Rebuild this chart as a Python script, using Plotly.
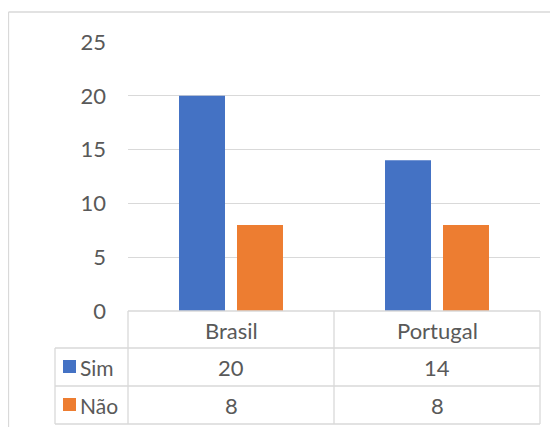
import plotly.graph_objects as go

categories = ["Brasil", "Portugal"]
series_names = ["Sim", "Não"]
sim_values = [20, 14]
nao_values = [8, 8]
colors = ["#4472C4", "#ED7D31"]
y_ticks = [0, 5, 10, 15, 20, 25]

# page body adds an 8px margin, so the figure is drawn 8px in from the corner
OFF = 8
W, H = 558 - OFF, 427 - OFF
L, R, T, B = 128 - OFF, 18, 42 - OFF, 116
PW, PH = W - L - R, H - T - B
GRID = "#d9d9d9"
TEXT = "#595959"
FONT = "Lato"
FS = 22


def px(x):
    # x in reference-image pixels -> paper coords
    return (x - OFF - L) / PW


def py(y):
    return (H - B - (y - OFF)) / PH


fig = go.Figure()
for name, vals, col in zip(series_names, [sim_values, nao_values], colors):
    fig.add_bar(x=categories, y=vals, name=name, marker=dict(color=col, line=dict(width=0)))

shapes = []
line = dict(color=GRID, width=1.3)
# outer chart border (left + top)
shapes.append(dict(type="line", xref="paper", yref="paper", x0=px(8.5), x1=px(8.5), y0=py(12), y1=py(440), line=line))
shapes.append(dict(type="line", xref="paper", yref="paper", x0=px(8.5), x1=px(570), y0=py(12), y1=py(12), line=line))
# data table grid
row_lines = [311, 348, 386, 424]
for i, yy in enumerate(row_lines):
    x0 = 128 if i == 0 else 55
    shapes.append(dict(type="line", xref="paper", yref="paper", x0=px(x0), x1=px(540), y0=py(yy), y1=py(yy), line=line))
for xx in [128, 334, 540]:
    shapes.append(dict(type="line", xref="paper", yref="paper", x0=px(xx), x1=px(xx), y0=py(311), y1=py(424), line=line))
shapes.append(dict(type="line", xref="paper", yref="paper", x0=px(55), x1=px(55), y0=py(348), y1=py(424), line=line))

annotations = []
row_centers = [367, 405]
# header row with categories
for c in categories:
    annotations.append(dict(x=c, xref="x", y=py(330), yref="paper", text=c, showarrow=False,
                            font=dict(family=FONT, size=FS, color=TEXT), xanchor="center", yanchor="middle"))
# value rows and legend keys
for name, vals, col, yc in zip(series_names, [sim_values, nao_values], colors, row_centers):
    for c, v in zip(categories, vals):
        annotations.append(dict(x=c, xref="x", y=py(yc), yref="paper", text=str(v), showarrow=False,
                                font=dict(family=FONT, size=FS, color=TEXT), xanchor="center", yanchor="middle"))
    shapes.append(dict(type="rect", xref="paper", yref="paper", x0=px(63), x1=px(76), y0=py(yc - 7), y1=py(yc + 6),
                       fillcolor=col, line=dict(width=0)))
    annotations.append(dict(x=px(78), xref="paper", y=py(yc), yref="paper", text=name, showarrow=False,
                            font=dict(family=FONT, size=21, color=TEXT), xanchor="left", yanchor="middle"))

fig.update_layout(
    width=W, height=H,
    margin=dict(l=L, r=R, t=T, b=B, pad=0),
    paper_bgcolor="white", plot_bgcolor="white",
    barmode="group", bargap=0.437, bargroupgap=0.207,
    showlegend=False,
    font=dict(family=FONT, size=FS, color=TEXT),
    shapes=shapes, annotations=annotations,
    xaxis=dict(showticklabels=False, showgrid=False, zeroline=False, showline=False, ticks=""),
    yaxis=dict(range=[0, 25], tickvals=y_ticks, showgrid=True, gridcolor=GRID, gridwidth=1.3,
               zeroline=False, showline=False, ticks="", ticklabelstandoff=21,
               tickfont=dict(family=FONT, size=FS, color=TEXT)),
)

fig.write_html("out.html")
